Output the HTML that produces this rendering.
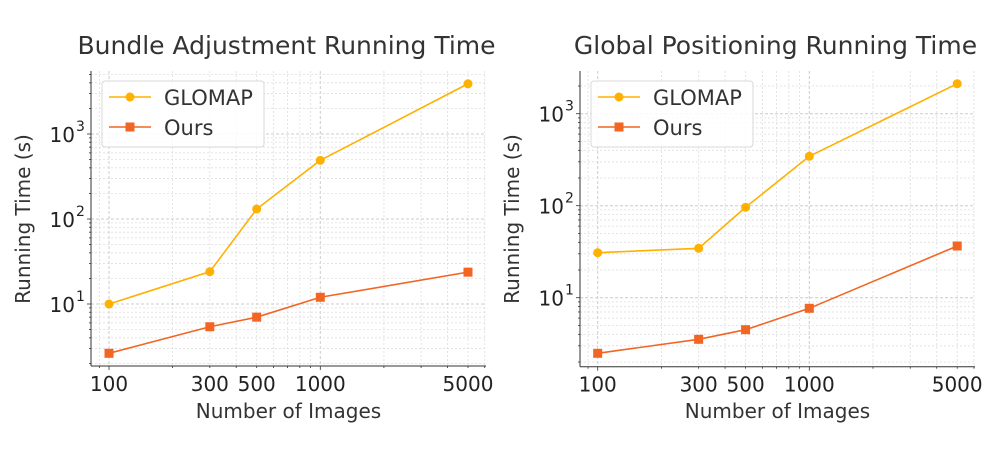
<!DOCTYPE html>
<html><head><meta charset="utf-8"><style>
html,body{margin:0;padding:0;background:#fff;}
svg{display:block;font-family:"DejaVu Sans","Liberation Sans",sans-serif;}
</style></head><body>
<svg id="s" width="1008" height="450" viewBox="0 0 1008 450" xmlns="http://www.w3.org/2000/svg">
<rect width="1008" height="450" fill="#fff"/>
<g id="g"></g>
</svg>
<script>
const NS="http://www.w3.org/2000/svg";
const G=document.getElementById('g');
function el(t,a,txt){const e=document.createElementNS(NS,t);for(const k in a)e.setAttribute(k,a[k]);if(txt!==undefined)e.textContent=txt;G.appendChild(e);return e;}
function plot(o){
 const {L,R,T,B,x100,xdec,y10,ydec,title,g,u}=o;
 const X=v=>x100+(Math.log10(v)-2)*xdec;
 const Y=v=>y10-(Math.log10(v)-1)*ydec;
 for(let d=1;d<=1000;d*=10)for(let m=1;m<10;m++){const v=d*m*10;const x=X(v);if(x<L||x>R)continue;
  const major=(m==1);
  el('line',{x1:x,y1:T,x2:x,y2:B,stroke:major?'#cccccc':'#dddddd','stroke-width':major?1:0.8,'stroke-dasharray':major?'3,2':'2,2'});
  el('line',{x1:x,y1:B,x2:x,y2:B+(major?4:2),stroke:'#333','stroke-width':0.8});}
 for(let d=0.1;d<=10000;d*=10)for(let m=1;m<10;m++){const v=d*m;const y=Y(v);if(y<T||y>B)continue;
  const major=(m==1);
  el('line',{x1:L,y1:y,x2:R,y2:y,stroke:major?'#cccccc':'#dddddd','stroke-width':major?1:0.8,'stroke-dasharray':major?'3,2':'2,2'});
  el('line',{x1:L-(major?4:2),y1:y,x2:L,y2:y,stroke:'#333','stroke-width':0.8});}
 el('line',{x1:L,y1:T,x2:L,y2:B,stroke:'#333','stroke-width':1});
 el('line',{x1:L,y1:B,x2:R,y2:B,stroke:'#333','stroke-width':1});
 [100,300,500,1000,5000].forEach(v=>{el('text',{x:X(v),y:B+25,'text-anchor':'middle','font-size':20,fill:'#222'},String(v));});
 [1,2,3].forEach(p=>{const y=Y(Math.pow(10,p));if(y<T||y>B)return;
  el('text',{x:L-16,y:y+8,'text-anchor':'end','font-size':20,fill:'#222'},'10');
  el('text',{x:L-15,y:y-3,'font-size':14,fill:'#222'},String(p));});
 el('text',{x:(L+R)/2-2,y:54,'text-anchor':'middle','font-size':25,fill:'#333'},title);
 el('text',{x:(L+R)/2,y:418,'text-anchor':'middle','font-size':20,fill:'#333'},'Number of Images');
 const yc=219;
 el('text',{x:0,y:0,'text-anchor':'middle','font-size':20,fill:'#333',transform:`translate(${L-61},${yc}) rotate(-90)`},'Running Time (s)');
 const xs=[100,300,500,1000,5000];
 const pg=xs.map((v,i)=>X(v)+','+Y(g[i])).join(' ');
 const pu=xs.map((v,i)=>X(v)+','+Y(u[i])).join(' ');
 el('polyline',{points:pg,fill:'none',stroke:'#FFB000','stroke-width':1.6});
 xs.forEach((v,i)=>el('circle',{cx:X(v),cy:Y(g[i]),r:4.5,fill:'#FFB000'}));
 el('polyline',{points:pu,fill:'none',stroke:'#F26522','stroke-width':1.6});
 xs.forEach((v,i)=>el('rect',{x:X(v)-4.5,y:Y(u[i])-4.5,width:9,height:9,fill:'#F26522'}));
 const lx=L+11,ly=T+10;
 el('rect',{x:lx,y:ly,width:162,height:66,rx:3,fill:'#fff','fill-opacity':0.85,stroke:'#d8d8d8','stroke-width':1});
 el('line',{x1:lx+7,y1:ly+16,x2:lx+49,y2:ly+16,stroke:'#FFB000','stroke-width':1.6});
 el('circle',{cx:lx+28,cy:ly+16,r:4.5,fill:'#FFB000'});
 el('text',{x:lx+62,y:ly+24,'font-size':21,fill:'#333'},'GLOMAP');
 el('line',{x1:lx+7,y1:ly+46,x2:lx+49,y2:ly+46,stroke:'#F26522','stroke-width':1.6});
 el('rect',{x:lx+23.5,y:ly+41.5,width:9,height:9,fill:'#F26522'});
 el('text',{x:lx+62,y:ly+54,'font-size':21,fill:'#333'},'Ours');
}
plot({L:91,R:486,T:71,B:366,x100:109,xdec:211.3,y10:304,ydec:85,title:'Bundle Adjustment Running Time',
 g:[10,24,131,490,3900],u:[2.63,5.4,7.0,12,23.7]});
const y2=v=>Math.pow(10,1-(v-297.7)/92);
plot({L:580,R:975,T:71,B:366.7,x100:597.7,xdec:211.6,y10:297.7,ydec:92,title:'Global Positioning Running Time',
 g:[252.7,248.3,207.3,156.3,83.7].map(y2),u:[353.3,339.3,329.7,308.3,246].map(y2)});
</script>
</body></html>
